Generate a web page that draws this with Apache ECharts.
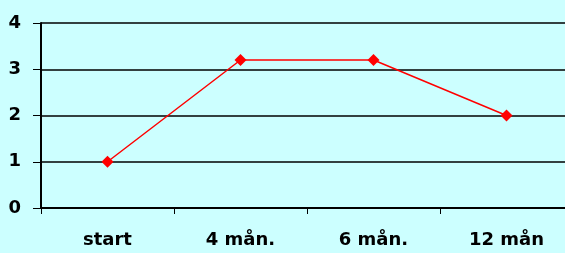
<!DOCTYPE html>
<html>
<head>
    <meta charset="utf-8" />
    <title>chart</title>
    <script src="https://cdn.jsdelivr.net/npm/echarts@6/dist/echarts.min.js"></script>
    <style>
        body { margin: 0; background: #ccffff; }
    </style>
</head>
<body>
    <div id="main" style="width: 565px; height: 253px;"></div>
    <script type="text/javascript">
        var categories = ['start', '4 mån.', '6 mån.', '12 mån'];
        var values = [1, 3.2, 3.2, 2];

        var labelFont = 'DejaVu Sans, Liberation Sans, sans-serif';
        var myChart = echarts.init(document.getElementById('main'));
        var option = {
            backgroundColor: '#ccffff',
            animation: false,
            grid: { left: 41, top: 23, width: 532, height: 185, outerBoundsMode: 'none', containLabel: false },
            xAxis: {
                type: 'category',
                data: categories,
                boundaryGap: true,
                axisLine: { lineStyle: { color: '#000', width: 2 } },
                axisTick: { show: true, length: 6, lineStyle: { color: '#000', width: 1 } },
                axisLabel: {
                    color: '#000', fontWeight: 'bold', fontSize: 18,
                    fontFamily: labelFont, margin: 23
                }
            },
            yAxis: {
                type: 'value',
                min: 0, max: 4, interval: 1,
                axisLine: { show: true, lineStyle: { color: '#000', width: 2 } },
                axisTick: { show: true, length: 8, lineStyle: { color: '#000', width: 1 } },
                splitLine: { lineStyle: { color: '#000', width: 1.5 } },
                axisLabel: {
                    color: '#000', fontWeight: 'bold', fontSize: 18,
                    fontFamily: labelFont, margin: 20
                }
            },
            series: [{
                type: 'line',
                data: values,
                symbol: 'diamond',
                symbolSize: 12,
                itemStyle: { color: '#ff0000' },
                lineStyle: { color: '#ff0000', width: 1.5 }
            }]
        };
        myChart.setOption(option);
    </script>
</body>
</html>
